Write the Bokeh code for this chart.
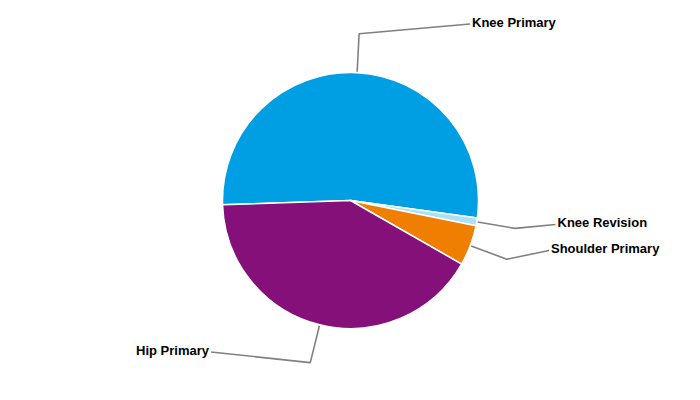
import math
from bokeh.plotting import figure
from bokeh.models import Range1d, ColumnDataSource
from bokeh.core.properties import value
from bokeh.embed import file_html
from bokeh.resources import INLINE

# ---- data ----
categories = ["Knee Primary", "Knee Revision", "Shoulder Primary", "Hip Primary"]
shares = [52.7, 1.0, 5.1, 41.2]
colors = ["#009ee3", "#a9e2f8", "#f07e00", "#85107a"]

# ---- layout (screen-pixel coordinates, y measured from top of window) ----
W, H = 684, 384
cx, cy = 350, 200          # pie centre (screen)
R = 128                    # pie radius
start_deg = 181.9          # angle of first slice edge (math, ccw from +x)
edge_r, bend_r = 129, 167  # connector radii
label_end = [(469.5, 23.5), (555, 224), (548.5, 250), (210.5, 351.5)]
label_side = ["right", "right", "right", "left"]


def sy(y):  # screen y -> data y
    return 400 - y


p = figure(width=W, height=H, output_backend="svg", toolbar_location=None,
           x_range=Range1d(0, W), y_range=Range1d(400 - H, 400),
           min_border=0)
p.axis.visible = False
p.grid.visible = False
p.outline_line_color = None
p.background_fill_color = "white"
p.border_fill_color = "white"

total = sum(shares)
starts, ends, mids = [], [], []
acc = 0.0
for s in shares:
    a0 = math.radians(start_deg) - acc / total * 2 * math.pi
    acc += s
    a1 = math.radians(start_deg) - acc / total * 2 * math.pi
    starts.append(a0)
    ends.append(a1)
    mids.append((a0 + a1) / 2)

src = ColumnDataSource(dict(x=[cx] * len(shares), y=[sy(cy)] * len(shares),
                            start=starts, end=ends, color=colors, cat=categories))
p.wedge(x="x", y="y", radius=R, radius_units="screen", start_angle="start",
        end_angle="end", direction="clock", fill_color="color",
        line_color="white", line_width=1.5, source=src)

# connectors and labels
for cat, m, (ex, ey), side in zip(categories, mids, label_end, label_side):
    x0 = cx + edge_r * math.cos(m)
    y0 = sy(cy) + edge_r * math.sin(m)
    x1 = cx + bend_r * math.cos(m)
    y1 = sy(cy) + bend_r * math.sin(m)
    p.line([x0, x1, ex], [y0, y1, sy(ey)], line_color="#808080", line_width=1.6)
    if side == "right":
        tx, align = ex + 2, "left"
    else:
        tx, align = ex - 2, "right"
    p.text(x=[tx], y=[sy(ey - 2)], text=[cat], text_align=align,
           text_baseline="middle", text_font=value("Liberation Sans"),
           text_font_style="bold", text_font_size="13px", text_color="#000000")

open("out.html", "w").write(file_html(p, INLINE))
